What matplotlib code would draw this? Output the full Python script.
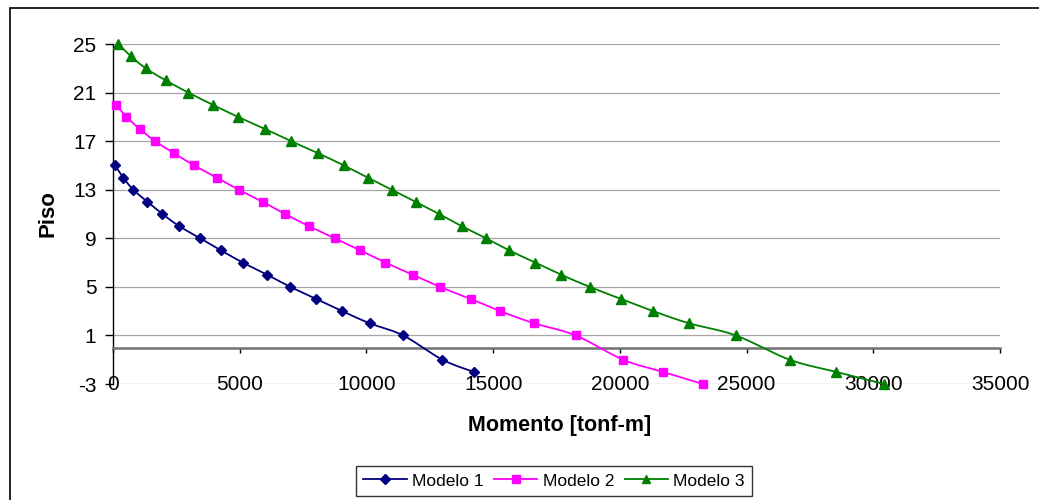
import numpy as np
import matplotlib
matplotlib.use("Agg")
import matplotlib.pyplot as plt
from matplotlib.patches import Rectangle

plt.rcParams['font.family'] = ['Liberation Sans', 'DejaVu Sans']

# Floor numbers (no floor 0) and bending moment per model
pisos_1 = [15, 14, 13, 12, 11, 10, 9, 8, 7, 6, 5, 4, 3, 2, 1, -1, -2]
momento_1 = [80, 400, 800, 1360, 1950, 2610, 3440, 4260, 5120, 6080, 7000,
             8020, 9040, 10130, 11450, 13000, 14230]

pisos_2 = [20, 19, 18, 17, 16, 15, 14, 13, 12, 11, 10, 9, 8, 7, 6, 5, 4, 3,
           2, 1, -1, -2, -3]
momento_2 = [110, 530, 1055, 1660, 2410, 3205, 4090, 4960, 5910, 6790, 7730,
             8750, 9760, 10750, 11820, 12900, 14120, 15280, 16620, 18260,
             20130, 21690, 23280]

pisos_3 = [25, 24, 23, 22, 21, 20, 19, 18, 17, 16, 15, 14, 13, 12, 11, 10, 9,
           8, 7, 6, 5, 4, 3, 2, 1, -1, -2, -3]
momento_3 = [200, 700, 1290, 2085, 2970, 3930, 4930, 6000, 7020, 8100, 9110,
             10050, 11000, 11940, 12870, 13760, 14720, 15640, 16660, 17680,
             18810, 20050, 21320, 22730, 24575, 26700, 28530, 30420]

series_names = ['Modelo 1', 'Modelo 2', 'Modelo 3']
x_ticks = [0, 5000, 10000, 15000, 20000, 25000, 30000, 35000]
y_ticks = [-3, 1, 5, 9, 13, 17, 21, 25]


def smooth(xs, ys, n=16):
    """Catmull-Rom curve through the points (smoothed line)."""
    p = np.column_stack([xs, ys]).astype(float)
    p = np.vstack([p[0], p, p[-1]])
    out = []
    t = np.linspace(0, 1, n, endpoint=False)[:, None]
    for i in range(1, len(p) - 2):
        p0, p1, p2, p3 = p[i - 1], p[i], p[i + 1], p[i + 2]
        seg = 0.5 * ((2 * p1) + (-p0 + p2) * t +
                     (2 * p0 - 5 * p1 + 4 * p2 - p3) * t ** 2 +
                     (-p0 + 3 * p1 - 3 * p2 + p3) * t ** 3)
        out.append(seg)
    out.append(p[-2][None, :])
    c = np.vstack(out)
    return c[:, 0], c[:, 1]


fig = plt.figure(figsize=(10.39, 5.0), dpi=100)
ax = fig.add_axes([113 / 1039, 1 - 384 / 500, 887 / 1039, 340 / 500])

styles = [
    dict(color='#000080', marker='D', ms=5.5),
    dict(color='#FF00FF', marker='s', ms=6),
    dict(color='#008000', marker='^', ms=7.5),
]
data = [(momento_1, pisos_1), (momento_2, pisos_2), (momento_3, pisos_3)]

handles = []
for (xs, ys), st, name in zip(data, styles, series_names):
    sx, sy = smooth(xs, ys)
    ax.plot(sx, sy, color=st['color'], lw=1.3, zorder=3, clip_on=False)
    ax.plot(xs, ys, ls='none', marker=st['marker'], ms=st['ms'],
            color=st['color'], mec=st['color'], zorder=4, clip_on=False)
    h, = ax.plot([], [], color=st['color'], lw=1.3, marker=st['marker'],
                 ms=st['ms'] * 0.85, mec=st['color'], label=name)
    handles.append(h)

ax.set_xlim(0, 35000)
ax.set_ylim(-3, 25)
ax.set_xticks(x_ticks)
ax.set_yticks(y_ticks)
ax.set_xticklabels([str(v) for v in x_ticks])
ax.set_yticklabels([str(v) for v in y_ticks])

ax.yaxis.grid(True, color='#a6a6a6', lw=0.9, zorder=0)
ax.set_axisbelow(True)

for s in ('top', 'right'):
    ax.spines[s].set_visible(False)
ax.spines['left'].set_color('black')
ax.spines['left'].set_linewidth(1.0)
ax.spines['bottom'].set_position(('data', 0))
ax.spines['bottom'].set_color('#707070')
ax.spines['bottom'].set_linewidth(1.8)

ax.tick_params(axis='y', direction='out', length=6, width=1.0,
               labelsize=15, pad=6, colors='black')
ax.tick_params(axis='x', direction='out', length=3.5, width=1.0,
               labelsize=15, pad=16, colors='black')

fig.text(48 / 1039, 1 - 214 / 500, 'Piso', rotation=90, ha='center',
         va='center', fontsize=16, fontweight='bold')
fig.text(560 / 1039, 1 - 425 / 500, 'Momento [tonf-m]', ha='center',
         va='center', fontsize=15.5, fontweight='bold')

leg = ax.legend(handles=handles, loc='center', ncol=3,
                bbox_to_anchor=(554 / 1039, 1 - 481 / 500),
                bbox_transform=fig.transFigure, fontsize=12.5,
                frameon=True, fancybox=False, handlelength=2.5,
                handletextpad=0.3, columnspacing=0.6, borderpad=0.45,
                borderaxespad=0)
leg.get_frame().set_edgecolor('black')
leg.get_frame().set_linewidth(1.0)

# outer chart border (left and top edges visible)
fig.add_artist(Rectangle((10 / 1039, -0.2), 1.2, 1 - 8 / 500 + 0.2,
                         fill=False, edgecolor='black', lw=1.2,
                         transform=fig.transFigure, clip_on=False))

fig.savefig('out.png', dpi=100)
